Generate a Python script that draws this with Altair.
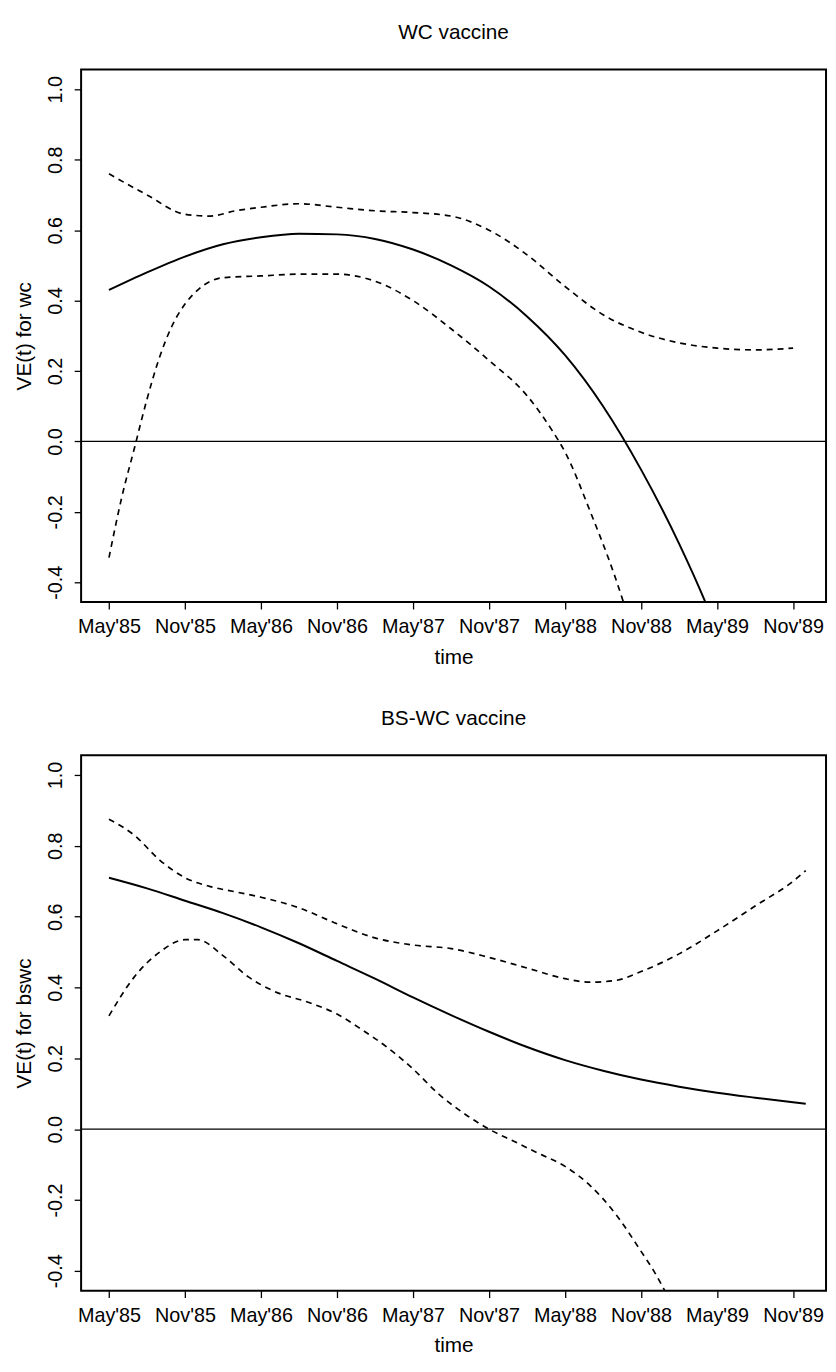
import json
import altair as alt
import pandas as pd

# ---------------- data (months since May'85) ----------------
tick_months = [0, 6, 12, 18, 24, 30, 36, 42, 48, 54]
tick_labels = ["May'85", "Nov'85", "May'86", "Nov'86", "May'87",
               "Nov'87", "May'88", "Nov'88", "May'89", "Nov'89"]
y_ticks = [-0.4, -0.2, 0.0, 0.2, 0.4, 0.6, 0.8, 1.0]

# WC vaccine
wc_est_m = [0, 3, 6, 9, 12, 15, 18, 21, 24, 27, 30, 33, 36, 39, 42, 45, 47, 48]
wc_est_v = [0.43, 0.48, 0.525, 0.56, 0.58, 0.59, 0.588, 0.575, 0.545, 0.50,
            0.44, 0.355, 0.245, 0.10, -0.08, -0.29, -0.45, -0.54]
wc_hi_m = [0, 3, 6, 8, 10, 12, 15, 18, 21, 24, 27, 30, 33, 36, 39, 42, 45, 48, 51, 54]
wc_hi_v = [0.76, 0.70, 0.645, 0.64, 0.655, 0.665, 0.675, 0.665, 0.655, 0.65,
           0.64, 0.60, 0.53, 0.44, 0.36, 0.31, 0.28, 0.265, 0.26, 0.265]
wc_lo_m = [0, 1, 2, 3, 4, 5, 6, 7, 9, 12, 15, 18, 21, 24, 27, 30, 33, 35, 36, 38, 40, 41]
wc_lo_v = [-0.33, -0.16, -0.02, 0.12, 0.24, 0.33, 0.39, 0.43, 0.465, 0.47, 0.475,
           0.475, 0.455, 0.40, 0.32, 0.23, 0.13, 0.03, -0.03, -0.20, -0.39, -0.50]

# BS-WC vaccine
bs_est_m = [0, 3, 6, 9, 12, 15, 18, 21, 24, 27, 30, 33, 36, 39, 42, 45, 48, 51, 54, 55]
bs_est_v = [0.71, 0.68, 0.645, 0.61, 0.57, 0.525, 0.475, 0.425, 0.372, 0.322, 0.275,
            0.232, 0.195, 0.165, 0.14, 0.12, 0.103, 0.089, 0.076, 0.072]
bs_hi_m = [0, 2, 4, 6, 8, 10, 12, 15, 18, 21, 24, 27, 30, 33, 36, 38, 40, 42, 45, 48, 51, 54, 55]
bs_hi_v = [0.875, 0.83, 0.76, 0.71, 0.685, 0.67, 0.655, 0.625, 0.58, 0.54, 0.52,
           0.51, 0.485, 0.455, 0.425, 0.415, 0.42, 0.445, 0.495, 0.56, 0.63, 0.70, 0.73]
bs_lo_m = [0, 2, 4, 6, 7, 9, 11, 13, 16, 18, 20, 22, 24, 26, 28, 30, 32, 34, 36, 38, 40, 42, 43, 44]
bs_lo_v = [0.32, 0.43, 0.50, 0.535, 0.535, 0.49, 0.43, 0.39, 0.355, 0.325, 0.28, 0.23,
           0.17, 0.10, 0.045, 0.0, -0.035, -0.07, -0.105, -0.16, -0.24, -0.345, -0.40, -0.465]

FONT = "Liberation Sans"
X_DOMAIN = [-2.2, 56.6]
Y_DOMAIN = [-0.456, 1.056]


def df(m, v):
    return pd.DataFrame({"m": m, "v": v})


def panel(title, ytitle, est, hi, lo, height):
    x = alt.X("m:Q",
              scale=alt.Scale(domain=X_DOMAIN, nice=False, zero=False),
              axis=alt.Axis(values=tick_months,
                            labelExpr=json.dumps(tick_labels) + "[round(datum.value / 6)]",
                            title="time", labelPadding=8, titlePadding=10))
    y = alt.Y("v:Q",
              scale=alt.Scale(domain=Y_DOMAIN, nice=False, zero=False),
              axis=alt.Axis(values=y_ticks,
                            labelExpr="(datum.value < -0.001 ? '-' : '') + format(abs(datum.value), '.1f')",
                            labelAngle=270, labelAlign="center", labelBaseline="bottom",
                            title=ytitle, labelPadding=9, titlePadding=11))
    zero = alt.Chart(df([0], [0.0])).mark_rule(color="black", strokeWidth=1.3).encode(y=y)
    solid = alt.Chart(df(*est)).mark_line(color="black", strokeWidth=2, clip=True,
                                          interpolate="monotone").encode(x=x, y=y)
    upper = alt.Chart(df(*hi)).mark_line(color="black", strokeWidth=1.7, clip=True,
                                         strokeDash=[6, 5], interpolate="monotone").encode(x=x, y=y)
    lower = alt.Chart(df(*lo)).mark_line(color="black", strokeWidth=1.7, clip=True,
                                         strokeDash=[6, 5], interpolate="monotone").encode(x=x, y=y)
    return alt.layer(zero, solid, upper, lower).properties(
        width=754, height=height,
        title=alt.Title(title, font=FONT, fontSize=21, fontWeight="normal",
                        color="black", anchor="middle", offset=27),
    )


top = panel("WC vaccine", "VE(t) for wc",
            (wc_est_m, wc_est_v), (wc_hi_m, wc_hi_v), (wc_lo_m, wc_lo_v), 539)
bottom = panel("BS-WC vaccine", "VE(t) for bswc",
               (bs_est_m, bs_est_v), (bs_hi_m, bs_hi_v), (bs_lo_m, bs_lo_v), 542)

chart = alt.vconcat(top, bottom, spacing=155, bounds="flush").properties(
    padding={"left": 5, "top": 5, "right": 0, "bottom": 5},
    background="white",
).configure_view(
    stroke="black", strokeWidth=2
).configure_axis(
    labelFont=FONT, labelFontSize=20, labelColor="black",
    titleFont=FONT, titleFontSize=21, titleFontWeight="normal", titleColor="black",
    tickColor="black", tickSize=7, tickWidth=1.3,
    grid=False, domain=False,
)

chart.save("out.html", embed_options={"renderer": "svg", "actions": False})
